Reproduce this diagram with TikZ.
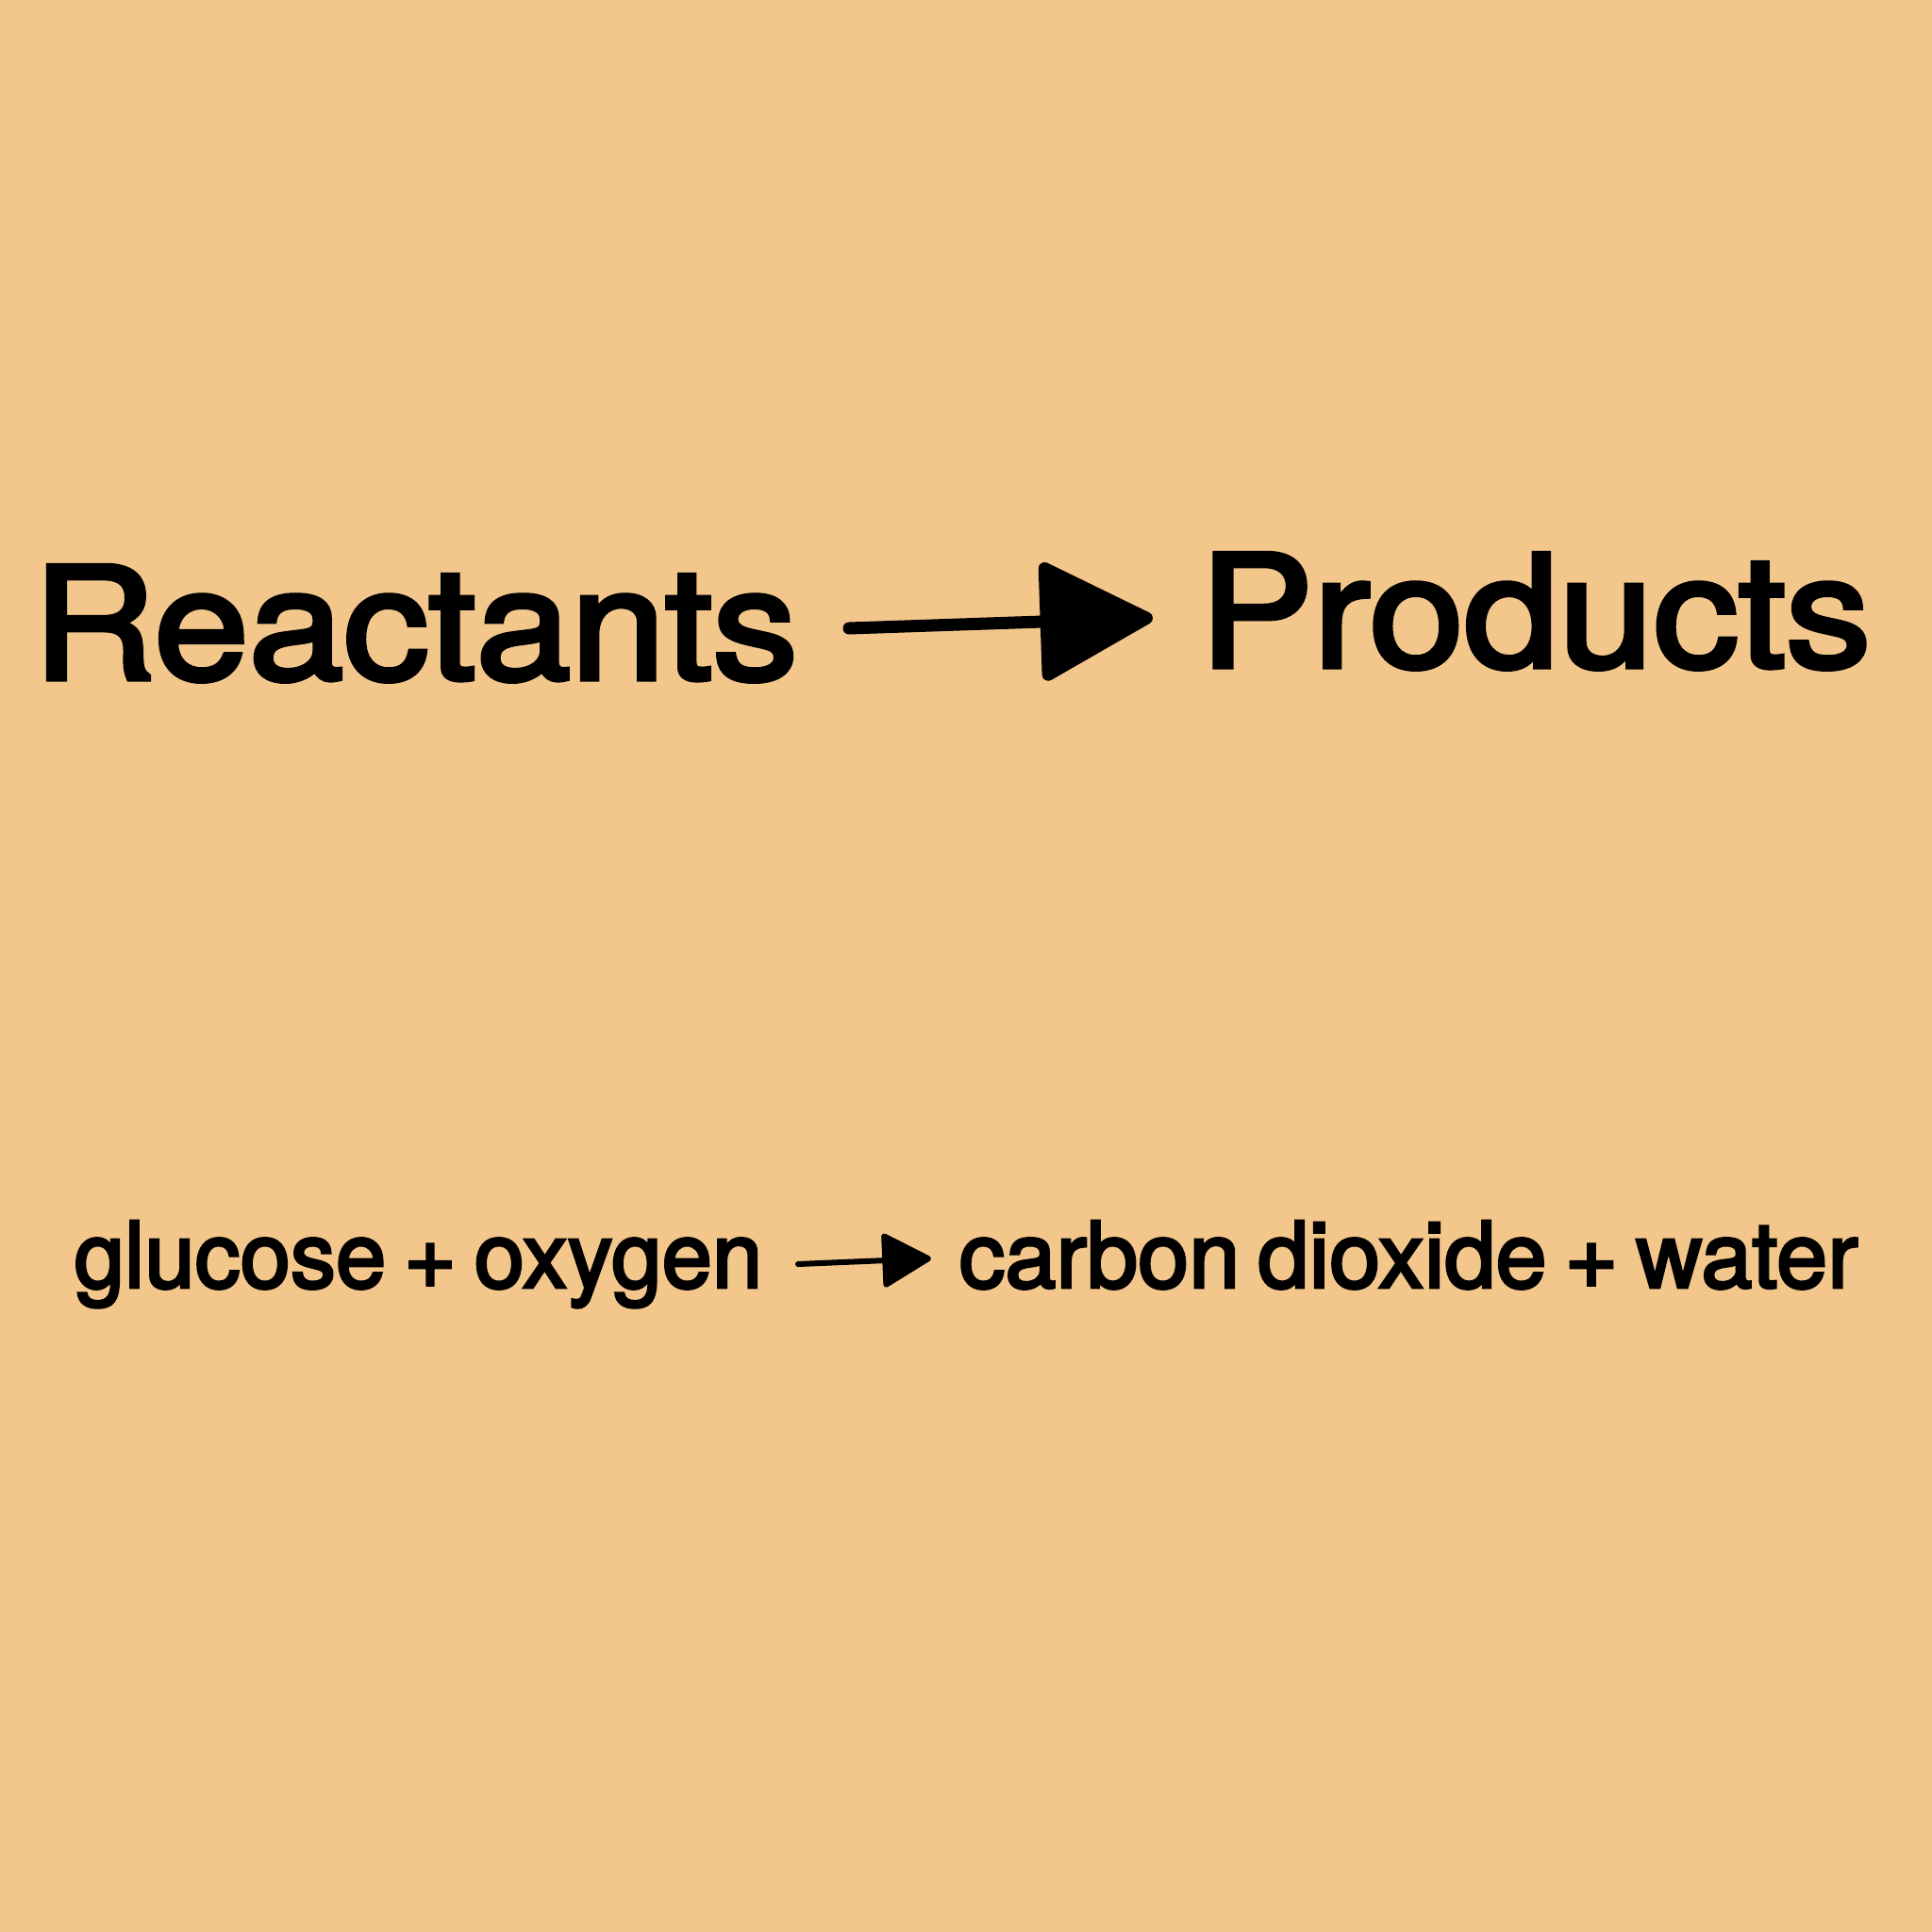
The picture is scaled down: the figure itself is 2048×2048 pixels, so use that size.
\documentclass[tikz,border=0pt]{standalone}
\usepackage{fontspec}
\usepackage{graphicx}
\setmainfont{TeX Gyre Heros}[FakeBold=3]
\newfontfamily\smallfont{TeX Gyre Heros}[FakeBold=3,WordSpace=0.7]
\usetikzlibrary{arrows.meta}
\definecolor{bgsand}{HTML}{F3C68C}
\newcommand{\widen}[1]{\scalebox{1.09}[1]{#1}}
\tikzset{
  bigword/.style={anchor=base west,inner sep=0pt,font=\fontsize{47.1}{50}\selectfont},
  smallword/.style={anchor=base west,inner sep=0pt,font=\smallfont\fontsize{27.7}{30}\selectfont},
  bigarrow/.style={line width=0.13cm,line cap=round,-{Triangle[length=1.27cm,width=1.31cm,round]}},
  smallarrow/.style={line width=0.06cm,line cap=round,-{Triangle[length=0.55cm,width=0.6cm,round]}}
}
\begin{document}
\begin{tikzpicture}[x=0.01cm,y=-0.01cm]
  \fill[bgsand] (0,0) rectangle (2048,2048);
  \useasboundingbox (0,0) rectangle (2048,2048);

  \node[bigword] (reac) at (34,720) {\widen{Reactants}};
  \node[bigword] (prod) at (1271,707) {\widen{Products}};

  \node[smallword] (glu) at (78,1365) {\scalebox{0.985}[1]{glucose + oxygen}};
  \node[smallword] (cdw) at (1016,1365) {carbon dioxide + water};

  \coordinate (r1) at (900,666);
  \coordinate (p1) at (1222,655);
  \coordinate (r2) at (846,1340);
  \coordinate (p2) at (987,1334);

  \draw[bigarrow] (r1) -- (p1);
  \draw[smallarrow] (r2) -- (p2);
\end{tikzpicture}
\end{document}
